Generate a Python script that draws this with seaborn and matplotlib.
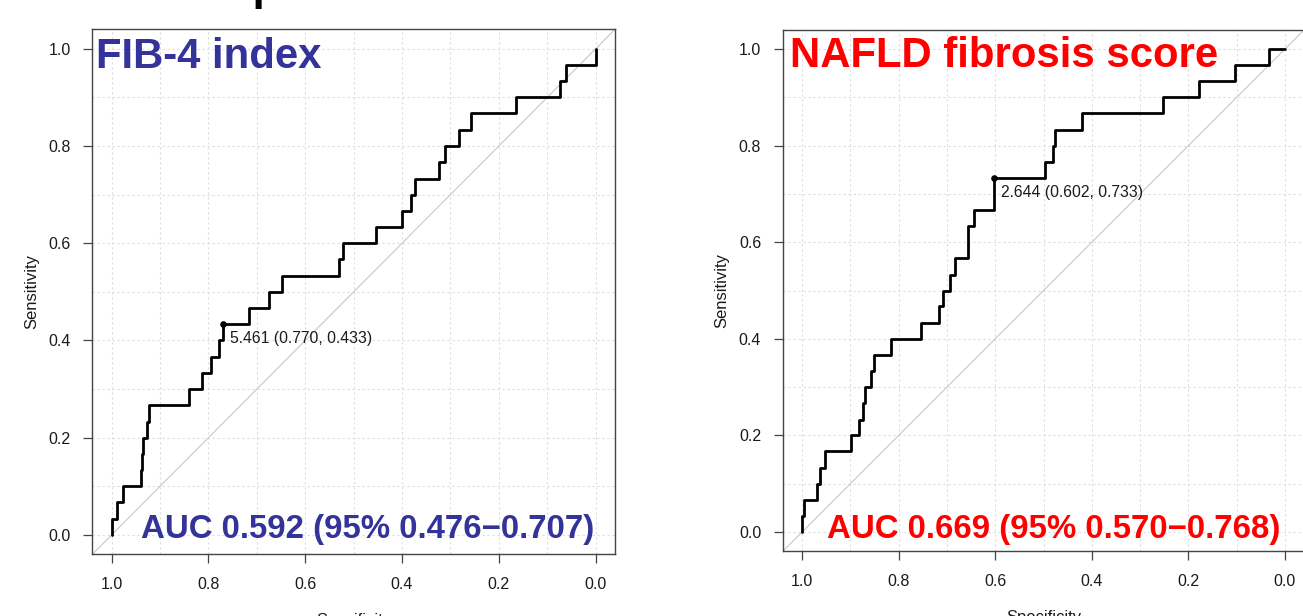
import numpy as np
import pandas as pd
import matplotlib
matplotlib.use("Agg")
import matplotlib.pyplot as plt
import seaborn as sns

# ---------------- data ----------------
sens_levels = [0.000, 0.033, 0.067, 0.100, 0.133, 0.167, 0.200, 0.233, 0.267, 0.300,
               0.333, 0.367, 0.400, 0.433, 0.467, 0.500, 0.533, 0.567, 0.600, 0.633,
               0.667, 0.700, 0.733, 0.767, 0.800, 0.833, 0.867, 0.900, 0.933, 0.967, 1.000]

# specificity at which sensitivity rises from level k to level k+1
fib4_spec = [1.000, 0.988, 0.977, 0.939, 0.938, 0.936, 0.926, 0.923, 0.840, 0.813,
             0.795, 0.779, 0.770, 0.717, 0.675, 0.647, 0.531, 0.521, 0.454, 0.400,
             0.382, 0.373, 0.324, 0.311, 0.282, 0.258, 0.164, 0.074, 0.061, 0.000]
nfs_spec = [1.000, 0.996, 0.968, 0.963, 0.953, 0.899, 0.883, 0.874, 0.870, 0.858,
            0.851, 0.815, 0.753, 0.717, 0.708, 0.693, 0.684, 0.657, 0.657, 0.644,
            0.602, 0.602, 0.497, 0.480, 0.477, 0.421, 0.253, 0.178, 0.104, 0.033]
roc_end_spec = 0.0

fib4_best = (0.770, 0.433, "5.461")
nfs_best = (0.602, 0.733, "2.644")

fib4_title = "FIB-4 index"
nfs_title = "NAFLD fibrosis score"
fib4_auc = "AUC 0.592 (95% 0.476\u22120.707)"
nfs_auc = "AUC 0.669 (95% 0.570\u22120.768)"

x_ticks = [1.0, 0.8, 0.6, 0.4, 0.2, 0.0]
y_ticks = [0.0, 0.2, 0.4, 0.6, 0.8, 1.0]
grid_vals = [0.0, 0.1, 0.2, 0.3, 0.4, 0.5, 0.6, 0.7, 0.8, 0.9, 1.0]

# ---------------- style ----------------
sns.set_style("white")
plt.rcParams["font.family"] = ["Liberation Sans", "DejaVu Sans"]

fig = plt.figure(figsize=(13.03, 6.16), dpi=100)
ax1 = fig.add_axes([0.0708, 0.1000, 0.4012, 0.8524])
ax2 = fig.add_axes([0.6007, 0.1049, 0.4003, 0.8469])


def draw(ax, spec, best, title, title_color, title_pos, auc_text, auc_pos):
    xs, ys = [], []
    for k, s in enumerate(spec):
        xs += [s, s]
        ys += [sens_levels[k], sens_levels[k + 1]]
    xs.append(roc_end_spec)
    ys.append(sens_levels[-1])
    df = pd.DataFrame({"Specificity": xs, "Sensitivity": ys})

    ax.set_xlim(1.04, -0.04)
    ax.set_ylim(-0.04, 1.04)

    # dotted grid
    for g in grid_vals:
        ax.axvline(g, color="#DCDCDC", lw=0.8, ls=(0, (2, 2.5)), zorder=0)
        ax.axhline(g, color="#DCDCDC", lw=0.8, ls=(0, (2, 2.5)), zorder=0)

    # identity line
    ax.axline((0.0, 1.0), (1.0, 0.0), color="#C8C8C8", lw=0.8, zorder=1)

    sns.lineplot(data=df, x="Specificity", y="Sensitivity", sort=False,
                 estimator=None, color="black", lw=2.0, ax=ax, zorder=3)

    # best threshold
    ax.scatter([best[0]], [best[1]], s=14, color="black", zorder=4)
    ax.annotate(f"{best[2]} ({best[0]:.3f}, {best[1]:.3f})", xy=(best[0], best[1]),
                xytext=(5.0, -10.2), textcoords="offset points", ha="left",
                va="center", fontsize=11.3, color="#1a1a1a")

    ax.text(title_pos[0], title_pos[1], title, transform=ax.transAxes,
            fontsize=30.2, fontweight="bold", color=title_color,
            ha="left", va="baseline", zorder=5)
    ax.text(auc_pos[0], auc_pos[1], auc_text, transform=ax.transAxes,
            fontsize=23.8, fontweight="bold", color=title_color,
            ha="left", va="baseline", zorder=5)

    ax.set_xticks(x_ticks)
    ax.set_xticklabels([f"{v:.1f}" for v in x_ticks])
    ax.set_yticks(y_ticks)
    ax.set_yticklabels([f"{v:.1f}" for v in y_ticks])
    ax.tick_params(axis="both", which="major", length=6.5, width=0.9,
                   color="#444444", labelsize=11.5, labelcolor="#1a1a1a",
                   direction="out", bottom=True, left=True)
    ax.tick_params(axis="x", pad=9.5)
    ax.tick_params(axis="y", pad=9.0)
    for sp in ax.spines.values():
        sp.set_visible(True)
        sp.set_color("#444444")
        sp.set_linewidth(1.0)

    ax.set_xlabel("Specificity", fontsize=12, color="#1a1a1a")
    ax.set_ylabel("Sensitivity", fontsize=12, color="#1a1a1a")
    ax.xaxis.set_label_coords(0.5, -0.112)
    ax.yaxis.set_label_coords(-0.102, 0.5)
    ax.grid(False)


draw(ax1, fib4_spec, fib4_best, fib4_title, "#333399", (0.007, 0.926),
     fib4_auc, (0.0926, 0.0307))
draw(ax2, nfs_spec, nfs_best, nfs_title, "#FF0000", (0.014, 0.929),
     nfs_auc, (0.0844, 0.0251))

# fragment of a large heading cut off at the top edge (only a descender shows)
fig.text(0.192, 1.0 + 5.0 / 616, "p", fontsize=50, fontweight="normal",
         color="black", ha="left", va="baseline")

fig.savefig("out.png", dpi=100)
